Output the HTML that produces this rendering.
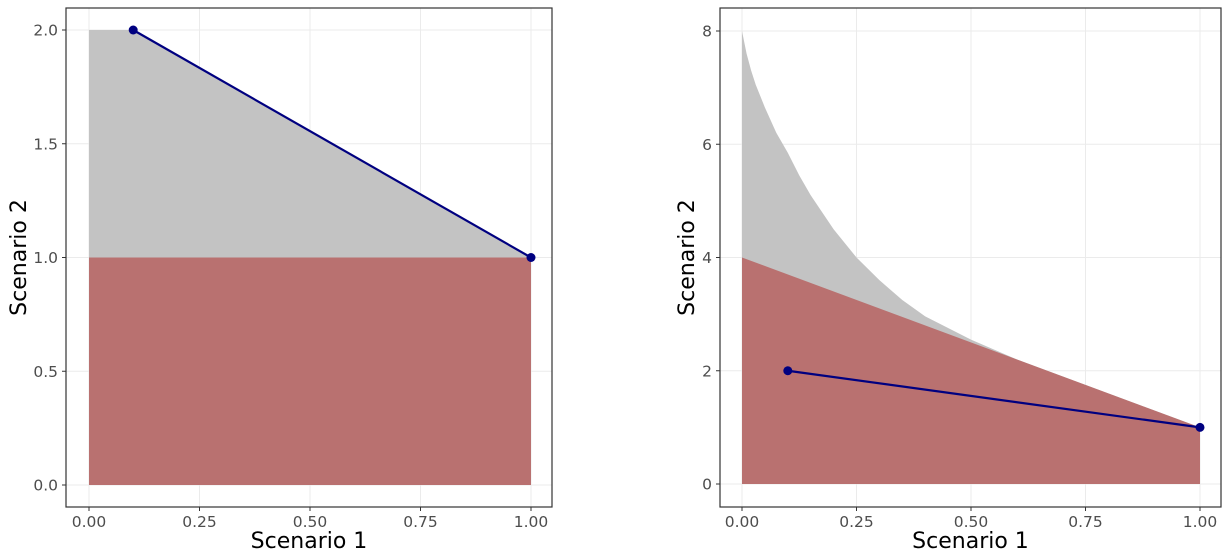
<!DOCTYPE html>
<html><head><meta charset="utf-8"><style>
body{margin:0;background:#fff}
svg{font-family:"DejaVu Sans","Liberation Sans",sans-serif}
</style></head><body>
<svg id="c" width="1227" height="552"></svg>
<script>
// Left panel data
const leftGreyX=[0,0.1,1,1,0];
const leftGreyY=[2,2,1,0,0];
const leftRedX=[0,1,1,0];
const leftRedY=[1,1,0,0];
const leftLineX=[0.1,1];
const leftLineY=[2,1];
const leftXTicks=["0.00","0.25","0.50","0.75","1.00"];
const leftYTicks=["0.0","0.5","1.0","1.5","2.0"];
// Right panel data
const rightCurveX=[0,0.005,0.01,0.02,0.03,0.05,0.075,0.1,0.125,0.15,0.2,0.25,0.3,0.35,0.4,0.5,0.6,0.75,0.9,1];
const rightCurveY=[8,7.8,7.6,7.3,7.05,6.65,6.2,5.85,5.45,5.1,4.5,4.0,3.6,3.25,2.96,2.55,2.2,1.75,1.3,1];
const rightRedX=[0,0,1,1];
const rightRedY=[0,4,1,0];
const rightLineX=[0.1,1];
const rightLineY=[2,1];
const rightXTicks=["0.00","0.25","0.50","0.75","1.00"];
const rightYTicks=["0","2","4","6","8"];

const NS="http://www.w3.org/2000/svg";
const svg=document.getElementById('c');
function mk(t,a,p){const e=document.createElementNS(NS,t);for(const k in a)e.setAttribute(k,a[k]);(p||svg).appendChild(e);return e;}

function panel(o){
  const g=mk('g',{});
  
  
  const sx=v=>o.x0+(o.x1-o.x0)*v;
  const sy=v=>o.y0+(o.y1-o.y0)*(v-o.ymin)/(o.ymax-o.ymin);
  o.xt.forEach((t,i)=>{const v=i/(o.xt.length-1);const X=sx(v);
    const l=mk('line',{x1:X,x2:X,y1:o.top,y2:o.bot,stroke:'#ebebeb','stroke-width':1},g);
    
  });
  o.yt.forEach((t,i)=>{const v=o.ymin+(o.ymax-o.ymin)*i/(o.yt.length-1);const Y=sy(v);
    const l=mk('line',{x1:o.left,x2:o.right,y1:Y,y2:Y,stroke:'#ebebeb','stroke-width':1},g);
    
  });
  const pts=(xs,ys)=>xs.map((x,i)=>sx(x)+','+sy(ys[i])).join(' ');
  const gr=mk('polygon',{points:pts(o.gx,o.gy),fill:'#c3c3c3'},g);
  
  const rd=mk('polygon',{points:pts(o.rx,o.ry),fill:'#b97170'},g);
  
  const ln=mk('polyline',{points:pts(o.lx,o.ly),fill:'none',stroke:'#000080','stroke-width':2.2},g);
  
  o.lx.forEach((x,i)=>{const c=mk('circle',{cx:sx(x),cy:sy(o.ly[i]),r:4.5,fill:'#000080'},g);
    });
  const b=mk('rect',{x:o.left,y:o.top,width:o.right-o.left,height:o.bot-o.top,fill:'none',stroke:'#333','stroke-width':1.2},g);
  
  o.xt.forEach((t,i)=>{const X=sx(i/(o.xt.length-1));
    mk('line',{x1:X,x2:X,y1:o.bot,y2:o.bot+4,stroke:'#333'},g);
    const tx=mk('text',{x:X,y:o.bot+20,'text-anchor':'middle','font-size':15.5,fill:'#4d4d4d'},g);tx.textContent=t;
    });
  o.yt.forEach((t,i)=>{const Y=sy(o.ymin+(o.ymax-o.ymin)*i/(o.yt.length-1));
    mk('line',{x1:o.left-4,x2:o.left,y1:Y,y2:Y,stroke:'#333'},g);
    const tx=mk('text',{x:o.left-8,y:Y+5.5,'text-anchor':'end','font-size':15.5,fill:'#4d4d4d'},g);tx.textContent=t;
    });
  const xt=mk('text',{x:(o.left+o.right)/2,y:548,'text-anchor':'middle','font-size':22,fill:'#000'},g);xt.textContent='Scenario 1';
  
  const cy=(o.top+o.bot)/2, tx0=o.left-o.tOff;
  const yt=mk('text',{x:tx0,y:cy,'text-anchor':'middle','font-size':22,fill:'#000',transform:`rotate(-90 ${tx0} ${cy})`},g);yt.textContent='Scenario 2';
  
}
panel({name:'left-panel',left:66,right:552,top:8,bot:507,x0:89,x1:531,y0:485,y1:30,ymin:0,ymax:2,tOff:40,
  xt:leftXTicks,yt:leftYTicks,gx:leftGreyX,gy:leftGreyY,rx:leftRedX,ry:leftRedY,lx:leftLineX,ly:leftLineY});
panel({name:'right-panel',left:720,right:1221,top:8,bot:507,x0:742,x1:1200,y0:484,y1:31,ymin:0,ymax:8,tOff:26,
  xt:rightXTicks,yt:rightYTicks,gx:rightCurveX.concat([1,0]),gy:rightCurveY.concat([0,0]),rx:rightRedX,ry:rightRedY,lx:rightLineX,ly:rightLineY});
</script>
</body></html>
